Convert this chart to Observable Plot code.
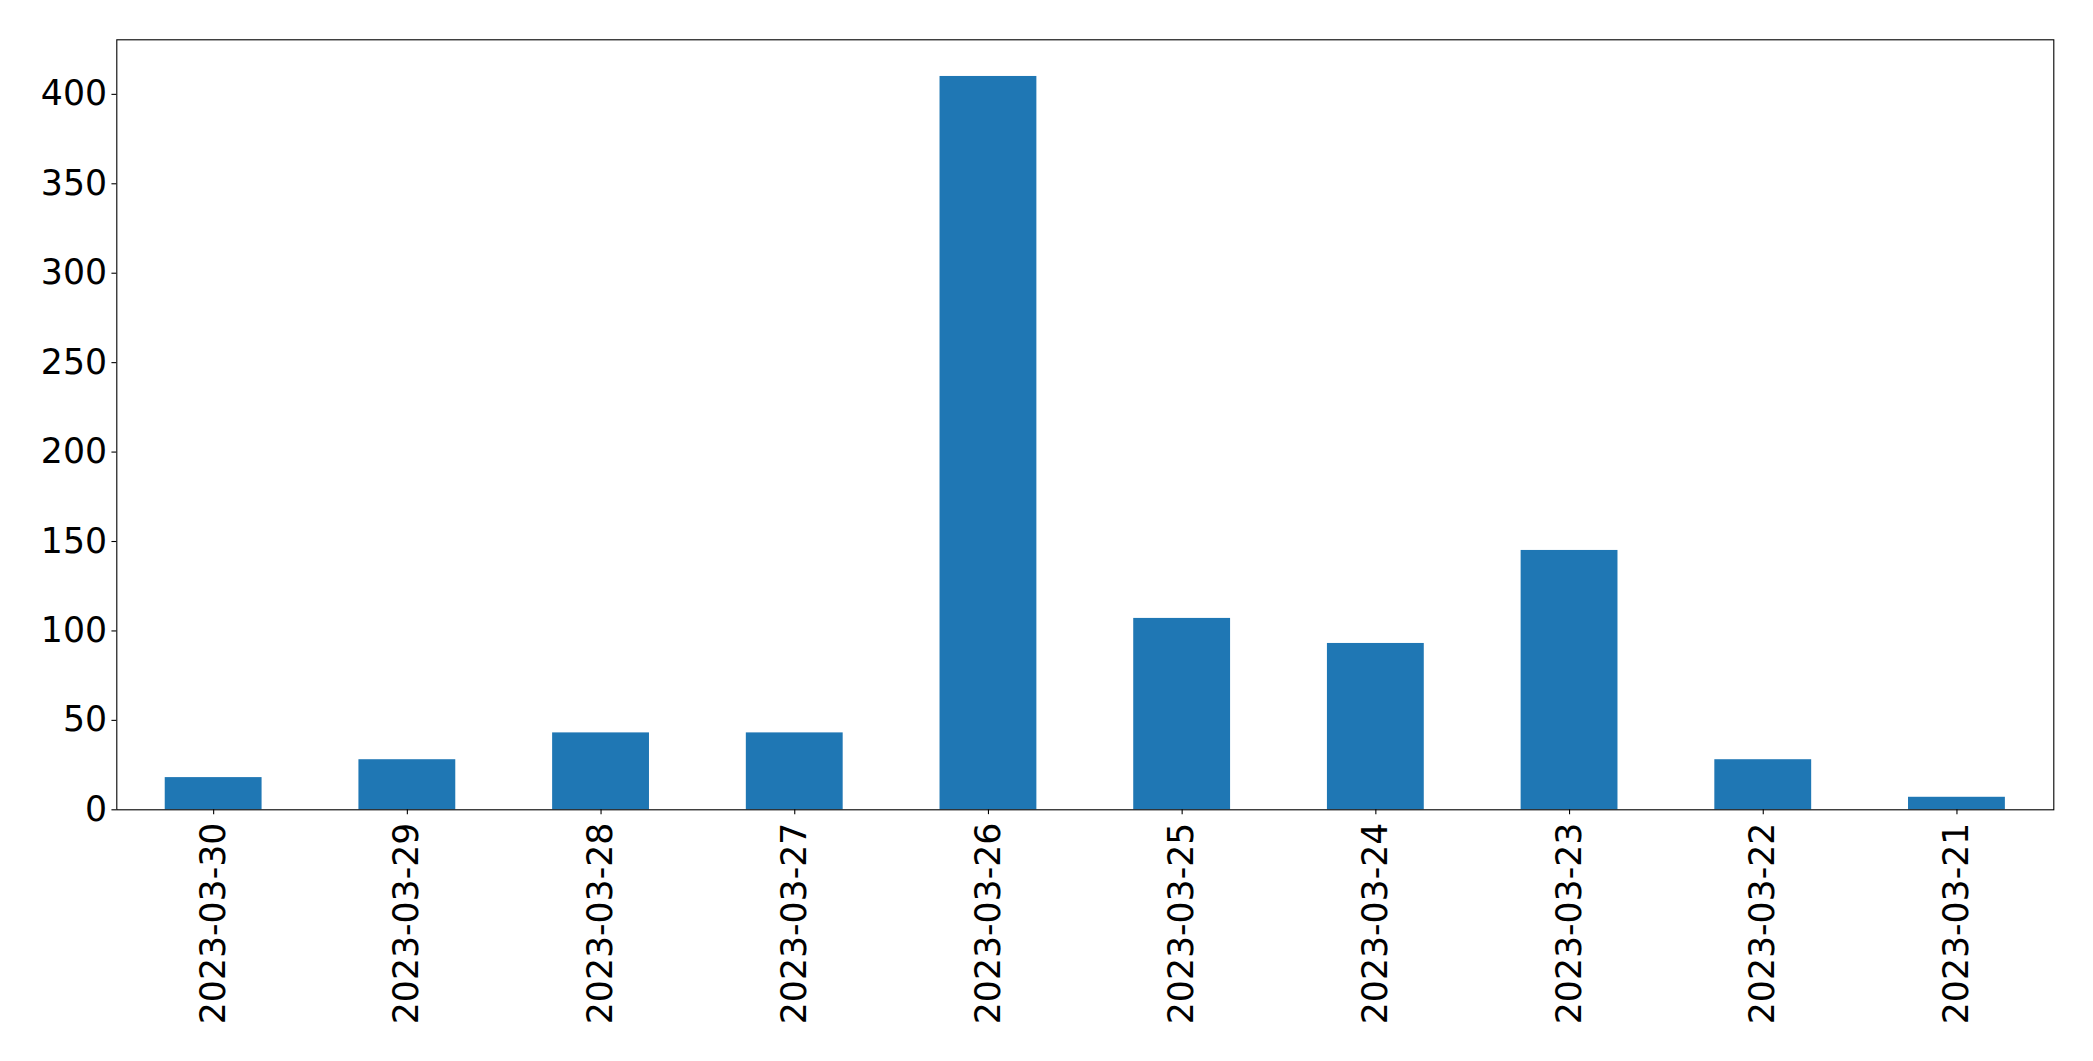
<!DOCTYPE html>
<html>
<head>
<meta charset="utf-8">
<script src="https://cdn.jsdelivr.net/npm/d3@7"></script>
<script src="https://cdn.jsdelivr.net/npm/@observablehq/plot@0.6"></script>
<style>
  html, body { margin: 0; padding: 0; background: #fff; }
  #chart svg { display: block; }
</style>
</head>
<body>
<div id="chart"></div>
<script>
const dates = ["2023-03-30", "2023-03-29", "2023-03-28", "2023-03-27", "2023-03-26", "2023-03-25", "2023-03-24", "2023-03-23", "2023-03-22", "2023-03-21"];
const counts = [18, 28, 43, 43, 410, 107, 93, 145, 28, 7];
const yTicks = [0, 50, 100, 150, 200, 250, 300, 350, 400];

const data = dates.map((d, i) => ({date: d, count: counts[i]}));

const FONT = "DejaVu Sans";
const FS = 34.7;
const TICK = 4.86;

const chart = Plot.plot({
  width: 2093,
  height: 1061,
  marginLeft: 116.3,
  marginRight: 39.7,
  marginTop: 39.3,
  marginBottom: 251.7,
  style: {fontFamily: FONT, fontSize: FS + "px", color: "#000", background: "#fff"},
  x: {type: "band", domain: dates, paddingInner: 0.5, paddingOuter: 0.25, align: 0.5, round: false, label: null},
  y: {domain: [0, 430.5], label: null},
  marks: [
    Plot.barY(data, {x: "date", y: "count", fill: "#1f77b4", inset: 0}),
    Plot.axisY({ticks: yTicks, tickSize: TICK, tickPadding: 4.86, fontSize: FS, tickFormat: d => String(d), label: null, strokeWidth: 1.1, stroke: "#000", fill: "#000"}),
    Plot.axisX({tickRotate: -90, tickSize: TICK, tickPadding: 8, fontSize: FS, label: null, strokeWidth: 1.1, stroke: "#000", fill: "#000"}),
    Plot.frame({stroke: "#000", strokeWidth: 1.1})
  ]
});
document.getElementById("chart").appendChild(chart);
</script>
</body>
</html>
